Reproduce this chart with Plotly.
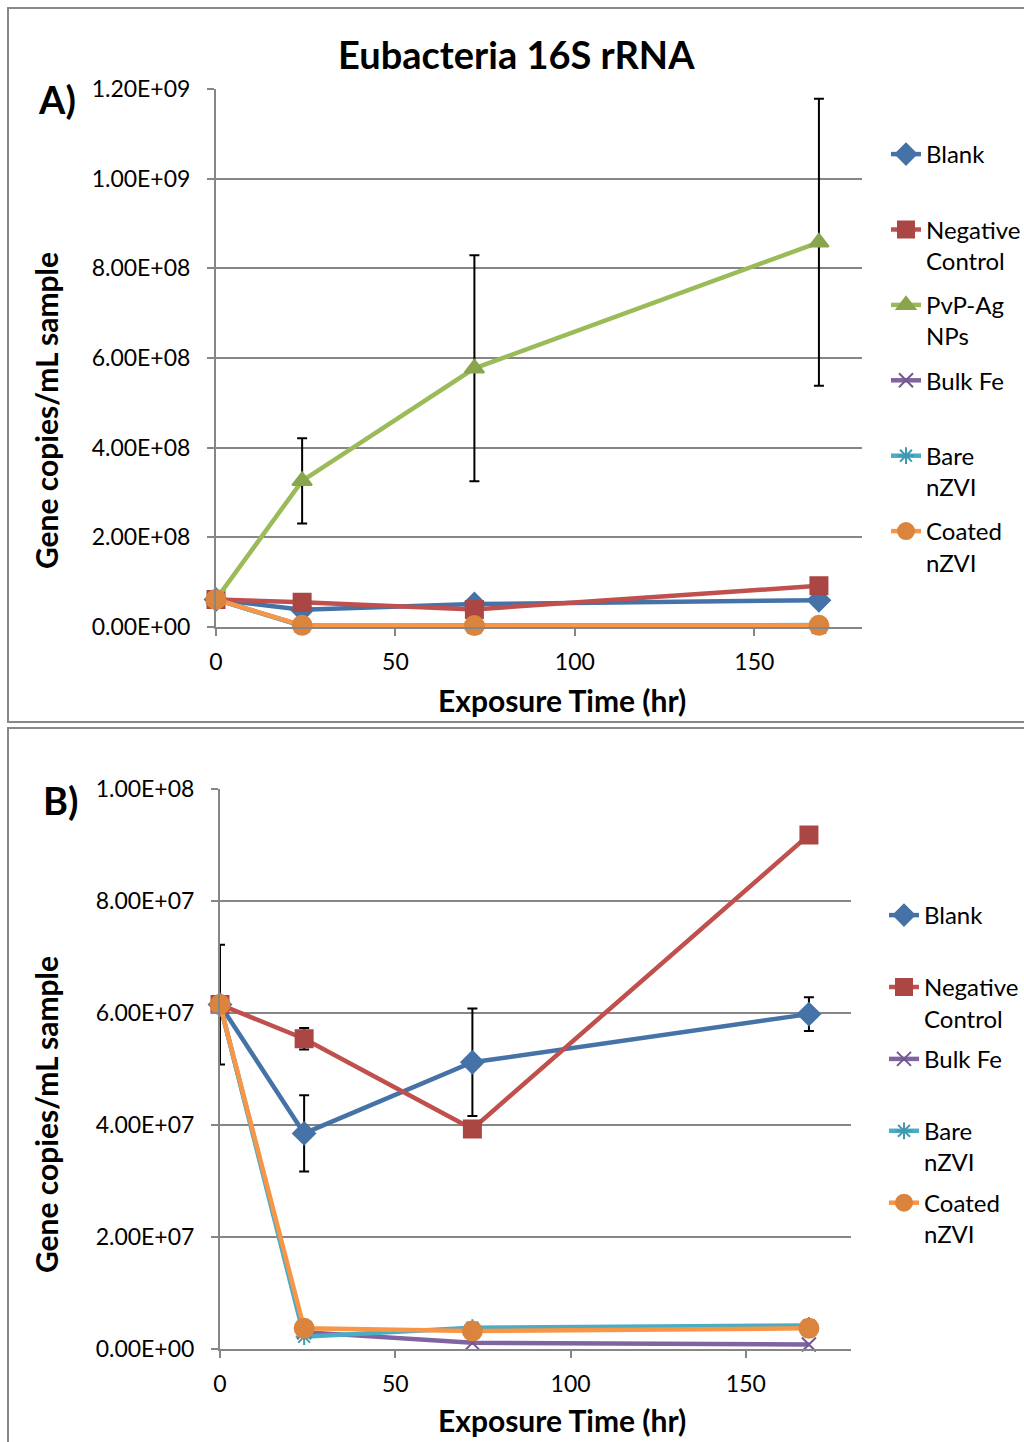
import plotly.graph_objects as go

# ---------------- data ----------------
hours = [0, 24, 72, 168]

blank = [6.15e7, 3.85e7, 5.12e7, 5.98e7]
blank_err = [1.07e7, 0.68e7, 0.96e7, 0.30e7]
negative = [6.15e7, 5.54e7, 3.93e7, 9.18e7]
negative_err = [0, 0.19e7, 0, 0]
pvp_ag = [6.15e7, 3.26e8, 5.77e8, 8.58e8]
pvp_ag_err = [0, 0.95e8, 2.52e8, 3.20e8]
bulk_fe = [6.15e7, 3.0e6, 1.1e6, 0.8e6]
bare_nzvi = [6.15e7, 2.2e6, 3.8e6, 4.2e6]
coated_nzvi = [6.15e7, 3.7e6, 3.2e6, 3.7e6]

x_ticks = [0, 50, 100, 150]
ya_ticks = [0, 2e8, 4e8, 6e8, 8e8, 1e9, 1.2e9]
ya_text = ["0.00E+00", "2.00E+08", "4.00E+08", "6.00E+08", "8.00E+08", "1.00E+09", "1.20E+09"]
yb_ticks = [0, 2e7, 4e7, 6e7, 8e7, 1e8]
yb_text = ["0.00E+00", "2.00E+07", "4.00E+07", "6.00E+07", "8.00E+07", "1.00E+08"]

title_text = "Eubacteria 16S rRNA"
xtitle = "Exposure Time (hr)"
ytitle = "Gene copies/mL sample"

# ---------------- styles ----------------
FONT = "Lato"
styles = {
    "Blank": dict(line="#4572A7", marker="#4572A7", symbol="diamond", size=17),
    "Negative": dict(line="#C0504D", marker="#AA4643", symbol="square", size=17),
    "PvP": dict(line="#9BBB59", marker="#89A54E", symbol="triangle-up", size=17),
    "Bulk": dict(line="#8064A2", marker="#71588F", symbol="x-thin-open", size=14),
    "Bare": dict(line="#4BACC6", marker="#4198AF", symbol="asterisk-open", size=14),
    "Coated": dict(line="#F79646", marker="#DB843D", symbol="circle", size=19),
}

fig = go.Figure()


def add(y, name, key, xa, ya, legend, err=None):
    s = styles[key]
    kw = {}
    if err is not None:
        kw["error_y"] = dict(type="data", array=err, visible=True, color="black",
                             thickness=2, width=5)
    fig.add_trace(go.Scatter(
        x=hours, y=y, name=name, mode="lines+markers",
        xaxis=xa, yaxis=ya, legend=legend, legendgroup=legend + key, cliponaxis=False,
        line=dict(color=s["line"], width=4.5),
        marker=dict(color=s["marker"], symbol=s["symbol"], size=s["size"],
                    line=dict(color=s["marker"], width=2)),
        **kw))


# Panel A
add(blank, "Blank<br>\u00a0", "Blank", "x", "y", "legend", blank_err)
add(negative, "Negative<br>Control", "Negative", "x", "y", "legend", negative_err)
add(pvp_ag, "PvP-Ag<br>NPs", "PvP", "x", "y", "legend", pvp_ag_err)
add(bulk_fe, "Bulk Fe<br>\u00a0", "Bulk", "x", "y", "legend")
add(bare_nzvi, "Bare<br>nZVI", "Bare", "x", "y", "legend")
add(coated_nzvi, "Coated<br>nZVI", "Coated", "x", "y", "legend")

# Panel B
add(blank, "Blank<br>\u00a0", "Blank", "x2", "y2", "legend2", blank_err)
add(negative, "Negative<br>Control", "Negative", "x2", "y2", "legend2", negative_err)
add(bulk_fe, "Bulk Fe<br>\u00a0", "Bulk", "x2", "y2", "legend2")
add(bare_nzvi, "Bare<br>nZVI", "Bare", "x2", "y2", "legend2")
add(coated_nzvi, "Coated<br>nZVI", "Coated", "x2", "y2", "legend2")

W, H = 1024, 1442


def px_x(v):
    return v / W


def px_y(v):
    return 1 - v / H


axis_common = dict(showline=True, linecolor="#868686", linewidth=2,
                   ticks="outside", tickcolor="#868686", ticklen=7, tickwidth=1.5,
                   tickfont=dict(family=FONT, size=23, color="black"),
                   zeroline=False, automargin=False)

fig.update_layout(
    template="none",
    width=W, height=H, margin=dict(l=0, r=0, t=0, b=0, pad=0, autoexpand=False), autosize=False,
    paper_bgcolor="white", plot_bgcolor="white",
    font=dict(family=FONT, color="black"),
    xaxis=dict(domain=[px_x(216), px_x(862)], range=[0, 180], anchor="y",
               tickvals=x_ticks, showgrid=False, ticklabelstandoff=6, **axis_common),
    yaxis=dict(domain=[px_y(627), px_y(89)], range=[0, 1.2e9], anchor="x",
               tickvals=ya_ticks, ticktext=ya_text, showgrid=True,
               gridcolor="#868686", gridwidth=1.5, ticklabelstandoff=12, **axis_common),
    xaxis2=dict(domain=[px_x(220), px_x(851)], range=[0, 180], anchor="y2",
                tickvals=x_ticks, showgrid=False, ticklabelstandoff=6, **axis_common),
    yaxis2=dict(domain=[px_y(1349), px_y(789)], range=[0, 1e8], anchor="x2",
                tickvals=yb_ticks, ticktext=yb_text, showgrid=True,
                gridcolor="#868686", gridwidth=1.5, ticklabelstandoff=12, **axis_common),
    legend=dict(x=px_x(886), y=px_y(132), xanchor="left", yanchor="top",
                font=dict(family=FONT, size=24), valign="top",
                bgcolor="rgba(0,0,0,0)", tracegroupgap=10, itemwidth=30),
    legend2=dict(x=px_x(884), y=px_y(893), xanchor="left", yanchor="top",
                 font=dict(family=FONT, size=24), valign="top",
                 bgcolor="rgba(0,0,0,0)", tracegroupgap=6.5, itemwidth=30),
    showlegend=True,
)

# panel borders
fig.add_shape(type="rect", xref="paper", yref="paper", x0=px_x(8), x1=px_x(1030),
              y0=px_y(722), y1=px_y(8), line=dict(color="#888888", width=2))
fig.add_shape(type="rect", xref="paper", yref="paper", x0=px_x(8), x1=px_x(1030),
              y0=px_y(1450), y1=px_y(728), line=dict(color="#888888", width=2))

ann = []
ann.append(dict(text="<b>" + title_text + "</b>", x=px_x(516), y=px_y(54), font=dict(size=38)))
ann.append(dict(text="<b>A)</b>", x=px_x(57), y=px_y(99), font=dict(size=38)))
ann.append(dict(text="<b>B)</b>", x=px_x(60), y=px_y(800), font=dict(size=38)))
ann.append(dict(text="<b>" + xtitle + "</b>", x=px_x(562), y=px_y(700), font=dict(size=30)))
ann.append(dict(text="<b>" + xtitle + "</b>", x=px_x(562), y=px_y(1420), font=dict(size=30)))
ann.append(dict(text="<b>" + ytitle + "</b>", x=px_x(46), y=px_y(411), font=dict(size=30), textangle=-90))
ann.append(dict(text="<b>" + ytitle + "</b>", x=px_x(46), y=px_y(1115), font=dict(size=30), textangle=-90))
for a in ann:
    a.update(xref="paper", yref="paper", showarrow=False, xanchor="center", yanchor="middle")
    a["font"].update(family=FONT, color="black")
fig.update_layout(annotations=ann)

fig.write_html(
    "out.html",
    post_script=("document.documentElement.style.margin='0';"
                 "document.body.style.margin='0';"),
)
